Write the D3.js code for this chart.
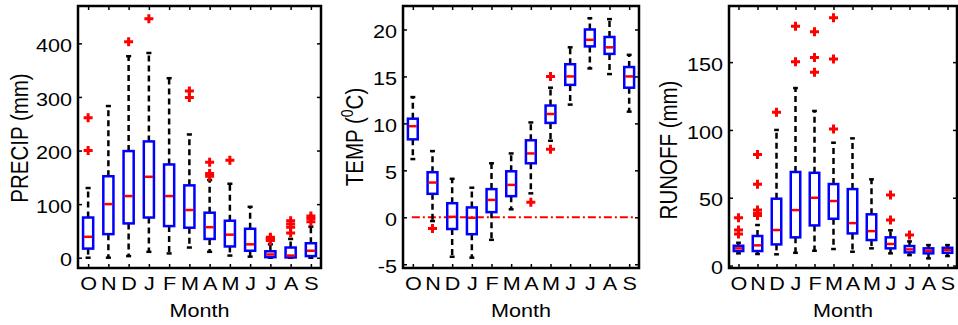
<!DOCTYPE html>
<html>
<head>
<meta charset="utf-8">
<script src="https://cdn.jsdelivr.net/npm/d3@7"></script>
<style>
  body { margin: 0; background: #fff; }
  svg text { font-family: "Liberation Sans", Arial, sans-serif; fill: #000; }
</style>
</head>
<body>
<svg id="chart" width="958" height="325"></svg>
<script>
var months = ["O", "N", "D", "J", "F", "M", "A", "M", "J", "J", "A", "S"];

// PRECIP (mm): whisker low, quartiles, median, whisker high, outliers
var precipLo  = [0, 0, 3, 11, 8, 19, 11, 4, 2, 0, 0, 0];
var precipQ1  = [17, 44, 64, 75, 59, 56, 35, 21, 13, 1, 0.5, 3];
var precipMed = [39, 100, 115, 151, 115, 89, 57, 43, 25, 6, 4, 13];
var precipQ3  = [75, 152, 199, 217, 174, 135, 84, 69, 54, 12, 19, 27];
var precipHi  = [130, 283, 376, 382, 335, 230, 145, 138, 95, 25, 35, 58];
var precipOut = [[261, 200], [], [403], [446], [], [311, 299], [178, 157, 152], [182], [], [38, 36, 34, 32], [69, 63, 57, 46], [78, 73, 67]];
var precipTicks = [0, 100, 200, 300, 400];

// TEMP (0C)
var tempLo  = [6.2, -0.4, -4.2, -4.3, -2.4, 0.85, 2.55, 8.15, 12.0, 15.85, 15.25, 11.25];
var tempQ1  = [8.3, 2.5, -1.25, -1.8, 0.55, 2.25, 5.75, 10.05, 14.1, 18.2, 17.4, 13.8];
var tempMed = [9.7, 3.7, 0.05, -0.05, 1.85, 3.45, 6.8, 11.0, 15.0, 18.9, 18.1, 15.0];
var tempQ3  = [10.5, 4.8, 1.5, 1.05, 3.0, 4.9, 8.2, 11.9, 16.3, 20.0, 19.2, 16.0];
var tempHi  = [12.8, 7.05, 4.1, 3.15, 5.75, 6.8, 10.1, 13.8, 18.1, 21.2, 21.1, 17.3];
var tempOut = [[], [-1.2], [], [], [], [], [1.6], [15.0, 7.25], [], [], [], []];
var tempTicks = [-5, 0, 5, 10, 15, 20];

// RUNOFF (mm)
var runoffLo  = [9.0, 8.5, 8.3, 9.4, 10.9, 12.2, 10.2, 12.7, 9.0, 7.7, 5.3, 7.0];
var runoffQ1  = [10.7, 10.7, 15.6, 20.8, 29.6, 34.5, 23.7, 18.8, 12.7, 9.7, 9.0, 9.4];
var runoffMed = [12.7, 14.9, 26.2, 40.9, 50.0, 47.6, 31.3, 25.4, 15.9, 11.9, 10.9, 11.4];
var runoffQ3  = [14.6, 21.8, 49.3, 69.0, 68.4, 60.1, 56.4, 37.8, 20.8, 14.4, 12.7, 13.1];
var runoffHi  = [16.8, 29.9, 100, 130.9, 114, 90.6, 93.8, 63.6, 26, 17.8, 15.1, 15.1];
var runoffOut = [[35.3, 26.2, 23.2], [81.9, 59.9, 40.9, 38.5, 37], [113], [176.5, 150.3], [172.5, 153.4, 142.5], [182.8, 152.3, 100.7], [], [], [52, 33.6], [22.5], [], []];
var runoffTicks = [0, 50, 100, 150];

var svg = d3.select("#chart");
var top0 = 6, bottom0 = 268;
var sx = 1.2; // the picture is stretched sideways

function stats(lo, q1, med, q3, hi, out) {
    return months.map(function (m, i) {
        return {i: i, lo: lo[i], q1: q1[i], med: med[i], q3: q3[i], hi: hi[i], out: out[i]};
    });
}

var panels = [
    {x0: 78, x1: 321, ylim: [-19.2, 469.7], ticks: precipTicks, data: stats(precipLo, precipQ1, precipMed, precipQ3, precipHi, precipOut),
     label: ["PRECIP (mm)"], lx: 28, ly: 138},
    {x0: 403, x1: 639, ylim: [-5.4, 22.5], ticks: tempTicks, data: stats(tempLo, tempQ1, tempMed, tempQ3, tempHi, tempOut),
     label: ["TEMP (", "0", "C)"], lx: 363, ly: 137, zero: true},
    {x0: 729, x1: 957, ylim: [-1.8, 191.4], ticks: runoffTicks, data: stats(runoffLo, runoffQ1, runoffMed, runoffQ3, runoffHi, runoffOut),
     label: ["RUNOFF (mm)"], lx: 677, ly: 150}
];

panels.forEach(function (p) {
    var x = d3.scalePoint().domain(d3.range(months.length)).range([p.x0, p.x1]).padding(0.5);
    var xl = d3.scaleLinear().domain([0.5, 12.5]).range([p.x0, p.x1]);
    var y = d3.scaleLinear().domain(p.ylim).range([bottom0, top0]);
    var step = x.step();
    var bw = step * 0.5;
    var cw = step * 0.25;
    var g = svg.append("g");

    // axes with inward ticks
    var ax = g.append("g").attr("transform", "translate(" + p.x0 + ",0)")
        .call(d3.axisLeft(y).tickValues(p.ticks).tickSizeInner(-4).tickSizeOuter(0).tickPadding(6 / sx)
            .tickFormat(function (d) { return String(d); }));
    g.append("g").attr("transform", "translate(" + p.x1 + ",0)")
        .call(d3.axisRight(y).tickValues(p.ticks).tickSizeInner(-4).tickSizeOuter(0).tickFormat(""));
    var bx = g.append("g").attr("transform", "translate(0," + bottom0 + ")")
        .call(d3.axisBottom(x).tickSizeInner(-4).tickSizeOuter(0).tickPadding(9)
            .tickFormat(function (d) { return months[d]; }));
    g.append("g").attr("transform", "translate(0," + top0 + ")")
        .call(d3.axisTop(x).tickSizeInner(-4).tickSizeOuter(0).tickFormat(""));

    g.selectAll(".domain").remove();
    g.selectAll(".tick line").attr("stroke", "#000").attr("stroke-width", 1.5);
    ax.selectAll("text").attr("font-size", 18).attr("dy", "0.45em")
        .attr("transform", "scale(" + sx + ",1)");
    bx.selectAll("text").attr("font-size", 18)
        .attr("transform", "scale(" + sx + ",1)");

    // zero reference line
    if (p.zero) {
        g.append("line")
            .attr("x1", xl(0.95)).attr("x2", xl(12.3))
            .attr("y1", y(0)).attr("y2", y(0))
            .attr("stroke", "#ff0000").attr("stroke-width", 2)
            .attr("stroke-dasharray", "8,3,2,3");
    }

    var box = g.selectAll(".box").data(p.data).enter().append("g").attr("class", "box");

    // whiskers
    box.append("line")
        .attr("x1", function (d) { return x(d.i); }).attr("x2", function (d) { return x(d.i); })
        .attr("y1", function (d) { return y(d.q3); }).attr("y2", function (d) { return y(d.hi); })
        .attr("stroke", "#000").attr("stroke-width", 2.5).attr("stroke-dasharray", "6,4");
    box.append("line")
        .attr("x1", function (d) { return x(d.i); }).attr("x2", function (d) { return x(d.i); })
        .attr("y1", function (d) { return y(d.q1); }).attr("y2", function (d) { return y(d.lo); })
        .attr("stroke", "#000").attr("stroke-width", 2.5).attr("stroke-dasharray", "6,4");
    ["hi", "lo"].forEach(function (k) {
        box.append("line")
            .attr("x1", function (d) { return x(d.i) - cw / 2; }).attr("x2", function (d) { return x(d.i) + cw / 2; })
            .attr("y1", function (d) { return y(d[k]); }).attr("y2", function (d) { return y(d[k]); })
            .attr("stroke", "#000").attr("stroke-width", 2.5);
    });

    // boxes
    box.append("rect")
        .attr("x", function (d) { return x(d.i) - bw / 2; })
        .attr("width", bw)
        .attr("y", function (d) { return y(d.q3); })
        .attr("height", function (d) { return y(d.q1) - y(d.q3); })
        .attr("fill", "none").attr("stroke", "#0000ff").attr("stroke-width", 2.5);

    // medians
    box.append("line")
        .attr("x1", function (d) { return x(d.i) - bw / 2 + 1; }).attr("x2", function (d) { return x(d.i) + bw / 2 - 1; })
        .attr("y1", function (d) { return y(d.med); }).attr("y2", function (d) { return y(d.med); })
        .attr("stroke", "#ff0000").attr("stroke-width", 2.5);

    // outliers
    box.selectAll(".out").data(function (d) { return d.out.map(function (v) { return {i: d.i, v: v}; }); })
        .enter().append("path").attr("class", "out")
        .attr("d", "M-4.5,0H4.5M0,-4.5V4.5")
        .attr("transform", function (d) { return "translate(" + x(d.i) + "," + y(d.v) + ")"; })
        .attr("stroke", "#ff0000").attr("stroke-width", 3);

    // frame
    g.append("rect")
        .attr("x", p.x0).attr("y", top0)
        .attr("width", p.x1 - p.x0).attr("height", bottom0 - top0)
        .attr("fill", "none").attr("stroke", "#000").attr("stroke-width", 2.5);

    // labels
    g.append("text")
        .attr("transform", "translate(" + ((p.x0 + p.x1) / 2) + ",317) scale(" + sx + ",1)")
        .attr("text-anchor", "middle").attr("font-size", 18)
        .text("Month");

    var yl = g.append("text")
        .attr("transform", "translate(" + p.lx + "," + p.ly + ") scale(" + sx + ",1) rotate(-90)")
        .attr("text-anchor", "middle").attr("font-size", 20.5);
    if (p.label.length === 1) {
        yl.text(p.label[0]);
    } else {
        yl.append("tspan").text(p.label[0]);
        yl.append("tspan").attr("font-size", 14).attr("dy", -8).text(p.label[1]);
        yl.append("tspan").attr("dy", 8).text(p.label[2]);
    }
});
</script>
</body>
</html>
